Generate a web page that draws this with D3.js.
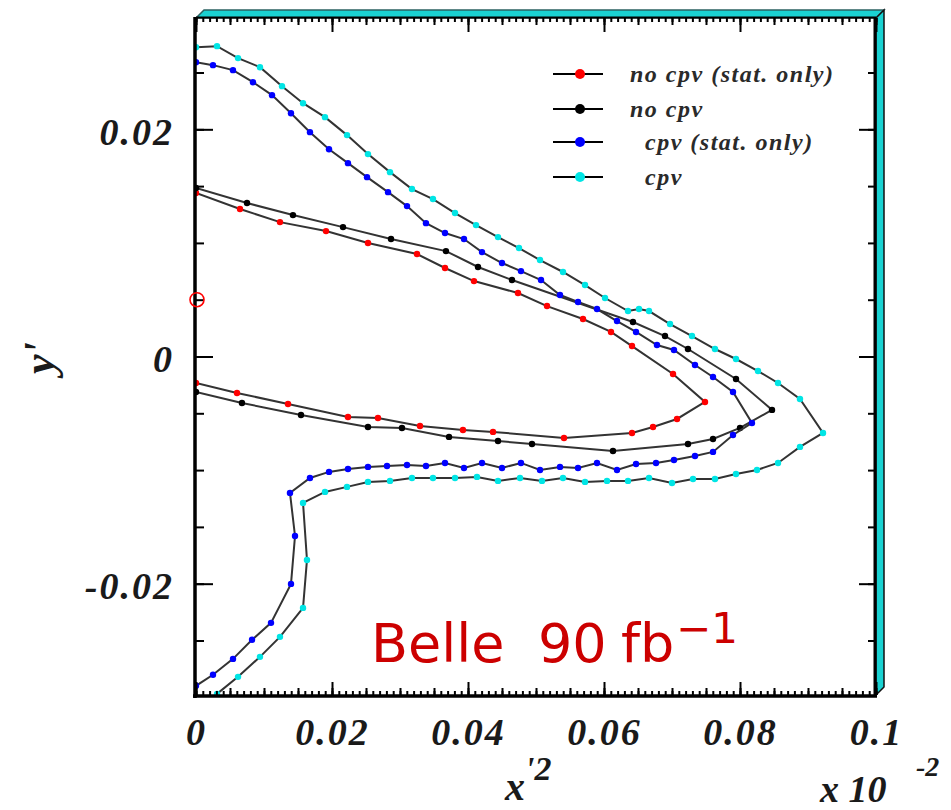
<!DOCTYPE html>
<html><head><meta charset="utf-8">
<script src="https://cdn.jsdelivr.net/npm/d3@7"></script>
<style>body{margin:0;background:#fff}svg{display:block}</style>
</head><body><svg id="c" width="951" height="810"></svg>
<script>
// ---------- data ----------
const seriesNames = ["no cpv (stat. only)", "no cpv", "  cpv (stat. only)", "  cpv"];
const seriesColors = ["#ff0000", "#000000", "#0000ff", "#00e5e5"];

const noCpvStat = [
  [0,0.01439],[0.00647,0.01298],[0.01235,0.01183],[0.01912,0.01104],[0.02529,0.00999],
  [0.03250,0.00902],[0.03662,0.00779],[0.04088,0.00664],[0.04735,0.00559],[0.05162,0.00444],
  [0.05691,0.00330],[0.06103,0.00216],[0.06412,0.00092],[0.07015,-0.00154],[0.07485,-0.00400],
  [0.07074,-0.00550],[0.06721,-0.00620],[0.06412,-0.00673],[0.05412,-0.00717],[0.04368,-0.00664],
  [0.03926,-0.00647],[0.03294,-0.00612],[0.02676,-0.00541],[0.02235,-0.00532],[0.01353,-0.00418],
  [0.00603,-0.00321],[0,-0.00233]
];
const noCpv = [
  [0,0.01483],[0.00750,0.01351],[0.01426,0.01245],[0.02162,0.01139],[0.02868,0.01034],
  [0.03676,0.00928],[0.04147,0.00788],[0.04647,0.00673],[0.06426,0.00304],[0.06897,0.00180],
  [0.07235,0.00066],[0.07941,-0.00198],[0.08471,-0.00470],[0.08000,-0.00629],[0.07603,-0.00726],
  [0.07235,-0.00770],[0.06132,-0.00832],[0.04941,-0.00770],[0.04441,-0.00744],[0.03721,-0.00708],
  [0.03029,-0.00629],[0.02529,-0.00620],[0.01544,-0.00515],[0.00676,-0.00409],[0,-0.00312]
];
const cpvStat = [
  [0,0.02591],[0.00250,0.02565],[0.00544,0.02521],[0.00838,0.02415],[0.01118,0.02301],
  [0.01397,0.02142],[0.01676,0.01975],[0.01956,0.01825],[0.02235,0.01702],[0.02515,0.01579],
  [0.02824,0.01447],[0.03103,0.01324],[0.03382,0.01174],[0.03662,0.01087],[0.03941,0.01034],
  [0.04206,0.00919],[0.04500,0.00823],[0.04779,0.00752],[0.05074,0.00673],[0.05353,0.00541],
  [0.05618,0.00480],[0.05897,0.00418],[0.06191,0.00312],[0.06471,0.00216],[0.06779,0.00101],
  [0.07029,0.00057],[0.07338,-0.00075],[0.07603,-0.00180],[0.07897,-0.00312],[0.08176,-0.00585],
  [0.07897,-0.00691],[0.07603,-0.00840],[0.07338,-0.00876],[0.07029,-0.00911],[0.06765,-0.00937],
  [0.06471,-0.00946],[0.06191,-0.00999],[0.05897,-0.00937],[0.05618,-0.00981],[0.05353,-0.00972],
  [0.05059,-0.00999],[0.04779,-0.00937],[0.04500,-0.00981],[0.04206,-0.00937],[0.03941,-0.00981],
  [0.03662,-0.00937],[0.03382,-0.00964],[0.03103,-0.00955],[0.02809,-0.00964],[0.02529,-0.00972],
  [0.02235,-0.00990],[0.01956,-0.01016],[0.01676,-0.01069],[0.01382,-0.01201],[0.01456,-0.01580],
  [0.01397,-0.02002],[0.01103,-0.02345],[0.00824,-0.02494],[0.00544,-0.02662],[0.00250,-0.02802],
  [0,-0.02899]
];
const cpv = [
  [0,0.02723],[0.00309,0.02732],[0.00618,0.02627],[0.00941,0.02547],[0.01265,0.02380],
  [0.01574,0.02230],[0.01897,0.02107],[0.02221,0.01949],[0.02529,0.01782],[0.02853,0.01623],
  [0.03176,0.01474],[0.03485,0.01386],[0.03809,0.01263],[0.04118,0.01157],[0.04441,0.01051],
  [0.04750,0.00955],[0.05059,0.00849],[0.05397,0.00744],[0.05721,0.00629],[0.06015,0.00515],
  [0.06353,0.00400],[0.06515,0.00418],[0.06662,0.00400],[0.06971,0.00286],[0.07294,0.00180],
  [0.07632,0.00066],[0.07941,-0.00022],[0.08265,-0.00128],[0.08559,-0.00233],[0.08882,-0.00374],
  [0.09221,-0.00673],[0.08882,-0.00796],[0.08559,-0.00937],[0.08250,-0.00999],[0.07941,-0.01034],
  [0.07632,-0.01078],[0.07309,-0.01078],[0.07000,-0.01113],[0.06662,-0.01069],[0.06353,-0.01095],
  [0.06044,-0.01095],[0.05721,-0.01104],[0.05397,-0.01069],[0.05088,-0.01095],[0.04765,-0.01069],
  [0.04441,-0.01095],[0.04132,-0.01060],[0.03809,-0.01069],[0.03485,-0.01069],[0.03176,-0.01069],
  [0.02853,-0.01095],[0.02529,-0.01104],[0.02221,-0.01148],[0.01897,-0.01192],[0.01574,-0.01289],
  [0.01632,-0.01791],[0.01574,-0.02213],[0.01235,-0.02468],[0.00941,-0.02644],[0.00618,-0.02820],
  [0.00309,-0.02970]
];
const seriesData = [noCpvStat, noCpv, cpvStat, cpv];

const referencePoint = [0, 0.005];

const xTickValues = [0, 0.02, 0.04, 0.06, 0.08, 0.1];
const xTickLabels = ["0", "0.02", "0.04", "0.06", "0.08", "0.1"];
const yTickValues = [-0.02, 0, 0.02];
const yTickLabels = ["-0.02", "0", "0.02"];

// ---------- layout ----------
const svg = d3.select("#c");
const plot = {left:196, right:876, top:18, bottom:695};
const x = d3.scaleLinear().domain([0, 0.1]).range([plot.left, plot.right]);
const y = d3.scaleLinear().domain([-0.0298, 0.0298]).range([plot.bottom, plot.top]);

svg.append("rect").attr("width",951).attr("height",810).attr("fill","#fff");

svg.append("defs").append("clipPath").attr("id","clip")
  .append("rect").attr("x",plot.left).attr("y",plot.top)
  .attr("width",plot.right-plot.left).attr("height",plot.bottom-plot.top);

// 3D cyan frame
const d = 8;
svg.append("polygon")
  .attr("points",[[plot.left,plot.top],[plot.left+d,plot.top-d],[plot.right+d,plot.top-d],[plot.right,plot.top]].join(" "))
  .attr("fill","#1ad2d2").attr("stroke","#2c6262").attr("stroke-width",1.5);
svg.append("polygon")
  .attr("points",[[plot.right,plot.top],[plot.right+d,plot.top-d],[plot.right+d,plot.bottom-d],[plot.right,plot.bottom]].join(" "))
  .attr("fill","#1ad2d2").attr("stroke","#111").attr("stroke-width",1.5);

// curves
const line = d3.line().x(p=>x(p[0])).y(p=>y(p[1]));
const curves = svg.append("g").attr("clip-path","url(#clip)");
seriesData.forEach((data,i)=>{
  curves.append("path").datum(data).attr("d",line)
    .attr("fill","none").attr("stroke","#333").attr("stroke-width",2);
  curves.append("g").selectAll("circle").data(data).join("circle")
    .attr("cx",p=>x(p[0])).attr("cy",p=>y(p[1])).attr("r",3.2)
    .attr("fill",seriesColors[i]);
});

// ticks
function noDomain(g){ g.select(".domain").remove(); g.selectAll("line").attr("stroke","#000").attr("stroke-width",2); }
const minorX = x.ticks(100), midX = x.ticks(20);
[[d3.axisBottom, plot.bottom],[d3.axisTop, plot.top]].forEach(([ax,pos])=>{
  svg.append("g").attr("transform",`translate(0,${pos})`)
    .call(ax(x).tickValues(minorX).tickSize(-4).tickFormat("")).call(noDomain);
  svg.append("g").attr("transform",`translate(0,${pos})`)
    .call(ax(x).tickValues(midX).tickSize(-7).tickFormat("")).call(noDomain);
});
svg.append("g").attr("transform",`translate(0,${plot.top})`)
  .call(d3.axisTop(x).tickValues(xTickValues).tickSize(-14).tickFormat("")).call(noDomain);
const xAx = svg.append("g").attr("transform",`translate(0,${plot.bottom})`)
  .call(d3.axisBottom(x).tickValues(xTickValues).tickSize(-13).tickFormat((v,i)=>xTickLabels[i])).call(noDomain);
xAx.selectAll("text").attr("y",50).attr("dy",0)
  .style("font-family","'Liberation Serif',serif").style("font-weight","bold").style("font-style","italic")
  .style("font-size","38px").style("letter-spacing","2px").attr("fill","#1a1a1a");

const minorY = y.ticks(12);
[[d3.axisLeft, plot.left],[d3.axisRight, plot.right]].forEach(([ax,pos])=>{
  svg.append("g").attr("transform",`translate(${pos},0)`)
    .call(ax(y).tickValues(minorY).tickSize(-8).tickFormat("")).call(noDomain);
  svg.append("g").attr("transform",`translate(${pos},0)`)
    .call(ax(y).tickValues(yTickValues).tickSize(-17).tickFormat("")).call(noDomain);
});
const yAx = svg.append("g").attr("transform",`translate(${plot.left},0)`)
  .call(d3.axisLeft(y).tickValues(yTickValues).tickSize(0).tickFormat((v,i)=>yTickLabels[i])).call(noDomain);
yAx.selectAll("text").attr("x",-22).attr("dy","0.4em")
  .style("font-family","'Liberation Serif',serif").style("font-weight","bold").style("font-style","italic")
  .style("font-size","38px").style("letter-spacing","2px").attr("fill","#1a1a1a");

// axis lines
svg.append("line").attr("x1",plot.left-1).attr("x2",plot.left-1).attr("y1",plot.top-1).attr("y2",plot.bottom+3)
  .attr("stroke","#000").attr("stroke-width",3.5);
svg.append("line").attr("x1",plot.left-3).attr("x2",plot.right+1).attr("y1",plot.bottom+1).attr("y2",plot.bottom+1)
  .attr("stroke","#000").attr("stroke-width",3.5);
svg.append("line").attr("x1",plot.left).attr("x2",plot.right).attr("y1",plot.top-0.5).attr("y2",plot.top-0.5)
  .attr("stroke","#000").attr("stroke-width",2);
svg.append("line").attr("x1",plot.right-1).attr("x2",plot.right-1).attr("y1",plot.top).attr("y2",plot.bottom+2)
  .attr("stroke","#000").attr("stroke-width",3);

// reference open circle
svg.append("circle").attr("cx",x(referencePoint[0])+1).attr("cy",y(referencePoint[1]))
  .attr("r",7).attr("fill","none").attr("stroke","#ff0000").attr("stroke-width",1.6);

// legend
const legendRows = [74,109,142,177];
const lg = svg.append("g");
seriesNames.forEach((name,i)=>{
  const ry = legendRows[i];
  lg.append("line").attr("x1",553).attr("x2",603).attr("y1",ry).attr("y2",ry)
    .attr("stroke","#000").attr("stroke-width",2);
  lg.append("circle").attr("cx",580).attr("cy",ry).attr("r",5).attr("fill",seriesColors[i]);
  lg.append("text").attr("x",630).attr("y",ry+8).text(name)
    .style("white-space","pre")
    .style("font-family","'Liberation Serif',serif").style("font-weight","bold").style("font-style","italic")
    .style("font-size","24px").style("letter-spacing","1.5px").attr("fill","#2a2a2a");
});

// axis titles
const serifBI = t=>t.style("font-family","'Liberation Serif',serif").style("font-weight","bold").style("font-style","italic").attr("fill","#1a1a1a");
const xt = svg.append("text").attr("x",505).attr("y",800).style("font-size","40px").call(serifBI);
xt.append("tspan").text("x");
xt.append("tspan").attr("dy",-20).style("font-size","34px").text("'2");
const yt = svg.append("text").attr("transform","translate(54,358) rotate(-90)").attr("text-anchor","middle")
  .style("font-size","44px").call(serifBI).text("y'");
const sc = svg.append("text").attr("x",820).attr("y",802).style("font-size","38px").call(serifBI);
sc.append("tspan").text("x 10");
sc.append("tspan").attr("x",916).attr("y",776).style("font-size","28px").text("-2");

// Belle label
const belle = svg.append("text").attr("y",662).attr("fill","#cc0000")
  .style("font-family","'DejaVu Sans',sans-serif").style("font-size","54px");
belle.append("tspan").attr("x",371).text("Belle");
belle.append("tspan").attr("x",538).text("90");
belle.append("tspan").attr("x",621).text("fb");
belle.append("tspan").attr("x",676).attr("y",643).style("font-size","42px").text("\u22121");
</script></body></html>
